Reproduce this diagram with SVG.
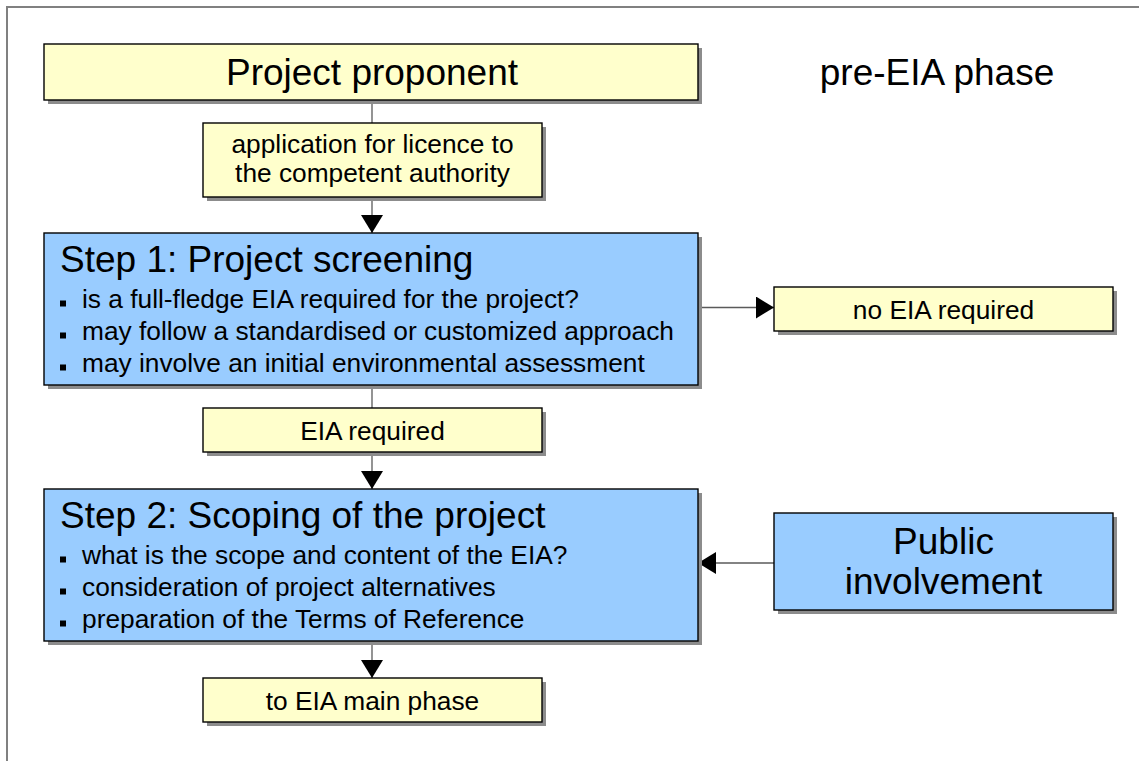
<svg xmlns="http://www.w3.org/2000/svg" width="1139" height="761" viewBox="0 0 1139 761">
<defs>
<style>
.frame{fill:none;stroke:#808080;stroke-width:2}
.shadow{fill:#8c8c8c}
.y{fill:#ffffcc;stroke:#000;stroke-width:1.4}
.b{fill:#99ccff;stroke:#000;stroke-width:1.4}
.t{font-family:"Liberation Sans",Arial,sans-serif;fill:#000}
.big{font-size:37px}
.mid{font-size:26.3px}
.c{text-anchor:middle}
.conn{stroke:#5a5a5a;stroke-width:1.3;fill:none}
.bul{fill:#000}
</style>
<marker id="arr" markerUnits="userSpaceOnUse" markerWidth="18" markerHeight="22" refX="18" refY="11" orient="auto" viewBox="0 0 18 22">
<path d="M0,0 L18,11 L0,22 z" fill="#000"/>
</marker>
</defs>
<rect x="0" y="0" width="1139" height="761" fill="#fff"/>
<rect class="frame" x="7" y="7" width="1200" height="800"/>

<g id="connectors">
<line class="conn" x1="372" y1="100" x2="372" y2="123"/>
<line class="conn" x1="372" y1="197" x2="372" y2="233" marker-end="url(#arr)"/>
<line class="conn" x1="372" y1="385" x2="372" y2="408"/>
<line class="conn" x1="372" y1="452" x2="372" y2="489" marker-end="url(#arr)"/>
<line class="conn" x1="372" y1="641" x2="372" y2="678" marker-end="url(#arr)"/>
<line class="conn" x1="698" y1="307.5" x2="774" y2="307.5" marker-end="url(#arr)"/>
<line class="conn" x1="774" y1="563" x2="698" y2="563" marker-end="url(#arr)"/>
</g>

<g id="project-proponent">
<rect class="shadow" x="48" y="48" width="654" height="56"/>
<rect class="y" x="44" y="44" width="654" height="56"/>
<text class="t big c" x="372" y="85">Project proponent</text>
</g>

<g id="pre-eia-phase">
<text class="t big c" x="937" y="85">pre-EIA phase</text>
</g>

<g id="application">
<rect class="shadow" x="207" y="127" width="339" height="74"/>
<rect class="y" x="203" y="123" width="339" height="74"/>
<text class="t mid c" x="372.5" y="153">application for licence to</text>
<text class="t mid c" x="372.5" y="182">the competent authority</text>
</g>

<g id="step1">
<rect class="shadow" x="48" y="237" width="654" height="152"/>
<rect class="b" x="44" y="233" width="654" height="152"/>
<text class="t big" x="60" y="272">Step 1: Project screening</text>
<rect class="bul" x="60" y="300.5" width="6" height="6"/>
<text class="t mid" x="82" y="308">is a full-fledge EIA required for the project?</text>
<rect class="bul" x="60" y="332.5" width="6" height="6"/>
<text class="t mid" x="82" y="340">may follow a standardised or customized approach</text>
<rect class="bul" x="60" y="364.5" width="6" height="6"/>
<text class="t mid" x="82" y="372">may involve an initial environmental assessment</text>
</g>

<g id="no-eia">
<rect class="shadow" x="778" y="291" width="339" height="44"/>
<rect class="y" x="774" y="287" width="339" height="44"/>
<text class="t mid c" x="943.5" y="319">no EIA required</text>
</g>

<g id="eia-required">
<rect class="shadow" x="207" y="412" width="339" height="44"/>
<rect class="y" x="203" y="408" width="339" height="44"/>
<text class="t mid c" x="372.5" y="440">EIA required</text>
</g>

<g id="step2">
<rect class="shadow" x="48" y="493" width="654" height="152"/>
<rect class="b" x="44" y="489" width="654" height="152"/>
<text class="t big" x="60" y="528">Step 2: Scoping of the project</text>
<rect class="bul" x="60" y="556.5" width="6" height="6"/>
<text class="t mid" x="82" y="564">what is the scope and content of the EIA?</text>
<rect class="bul" x="60" y="588.5" width="6" height="6"/>
<text class="t mid" x="82" y="596">consideration of project alternatives</text>
<rect class="bul" x="60" y="620.5" width="6" height="6"/>
<text class="t mid" x="82" y="628">preparation of the Terms of Reference</text>
</g>

<g id="public-involvement">
<rect class="shadow" x="778" y="517" width="339" height="97"/>
<rect class="b" x="774" y="513" width="339" height="97"/>
<text class="t big c" x="943.5" y="554">Public</text>
<text class="t big c" x="943.5" y="594">involvement</text>
</g>

<g id="to-main-phase">
<rect class="shadow" x="207" y="682" width="339" height="44"/>
<rect class="y" x="203" y="678" width="339" height="44"/>
<text class="t mid c" x="372.5" y="710">to EIA main phase</text>
</g>
</svg>
